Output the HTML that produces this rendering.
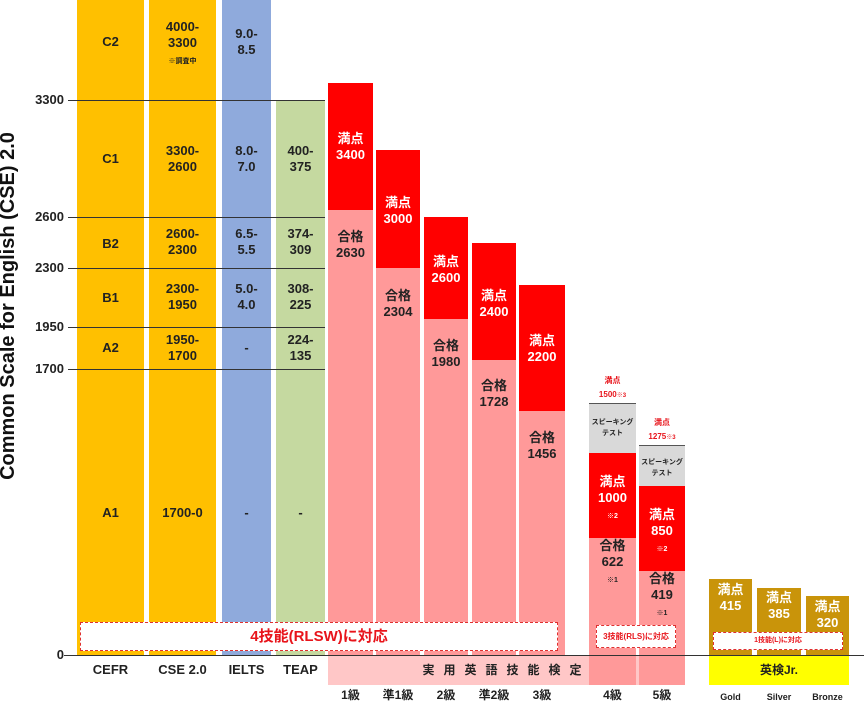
<!DOCTYPE html>
<html><head><meta charset="utf-8"><style>
body{margin:0;width:864px;height:695px;overflow:hidden;background:#fff;position:relative;font-family:"Liberation Sans","Noto Sans CJK JP",sans-serif;font-weight:bold}
div{position:absolute;box-sizing:border-box}
.c{text-align:center;color:#222;font-size:13px;line-height:16px}
.w{color:#fff;text-align:center;font-size:13px;line-height:16px}
.hl{height:1px;background:#333}
.yl{font-size:13px;color:#222;left:6px;width:58px;text-align:right}
.box{background:#fff;border:1px dashed #e03030;color:#e8141b;text-align:center}
.s{font-size:7px}
</style></head><body>
<div style="left:-192px;top:294px;width:400px;transform:rotate(-90deg);font-size:20px;color:#111;text-align:center;line-height:24px">Common Scale for English (CSE) 2.0</div>
<div style="left:77px;top:0;width:67px;height:655px;background:#ffc000"></div>
<div style="left:149px;top:0;width:67px;height:655px;background:#ffc000"></div>
<div style="left:222px;top:0;width:49px;height:655px;background:#8faadc"></div>
<div style="left:276px;top:100px;width:49px;height:555px;background:#c5d9a0"></div>
<div style="left:328px;top:83px;width:45px;height:127px;background:#ff0000"></div>
<div style="left:328px;top:210px;width:45px;height:475px;background:#ff9999"></div>
<div style="left:376px;top:150px;width:44px;height:118px;background:#ff0000"></div>
<div style="left:376px;top:268px;width:44px;height:417px;background:#ff9999"></div>
<div style="left:424px;top:217px;width:44px;height:102px;background:#ff0000"></div>
<div style="left:424px;top:319px;width:44px;height:366px;background:#ff9999"></div>
<div style="left:472px;top:243px;width:44px;height:117px;background:#ff0000"></div>
<div style="left:472px;top:360px;width:44px;height:325px;background:#ff9999"></div>
<div style="left:519px;top:285px;width:46px;height:126px;background:#ff0000"></div>
<div style="left:519px;top:411px;width:46px;height:274px;background:#ff9999"></div>
<div style="left:328px;top:655px;width:357px;height:30px;background:#ffc7c7"></div>
<div style="left:589px;top:403px;width:47px;height:50px;background:#d9d9d9;border-top:1px solid #555"></div>
<div style="left:589px;top:453px;width:47px;height:85px;background:#ff0000"></div>
<div style="left:589px;top:538px;width:47px;height:147px;background:#ff9999"></div>
<div style="left:639px;top:445px;width:46px;height:41px;background:#d9d9d9;border-top:1px solid #555"></div>
<div style="left:639px;top:486px;width:46px;height:85px;background:#ff0000"></div>
<div style="left:639px;top:571px;width:46px;height:114px;background:#ff9999"></div>
<div style="left:709px;top:579px;width:43px;height:76px;background:#c9940a"></div>
<div style="left:757px;top:588px;width:44px;height:67px;background:#c9940a"></div>
<div style="left:806px;top:596px;width:43px;height:59px;background:#c9940a"></div>
<div style="left:709px;top:655px;width:140px;height:30px;background:#ffff00"></div>
<div class="hl" style="left:68px;top:100px;width:257px"></div>
<div class="hl" style="left:68px;top:217px;width:257px"></div>
<div class="hl" style="left:68px;top:268px;width:257px"></div>
<div class="hl" style="left:68px;top:327px;width:257px"></div>
<div class="hl" style="left:68px;top:369px;width:257px"></div>
<div class="hl" style="left:64px;top:655px;width:800px"></div>
<div class="yl" style="top:92px">3300</div>
<div class="yl" style="top:209px">2600</div>
<div class="yl" style="top:260px">2300</div>
<div class="yl" style="top:319px">1950</div>
<div class="yl" style="top:361px">1700</div>
<div class="yl" style="top:647px">0</div>
<div class="c" style="left:77px;width:67px;top:34px">C2</div>
<div class="c" style="left:77px;width:67px;top:151px">C1</div>
<div class="c" style="left:77px;width:67px;top:236px">B2</div>
<div class="c" style="left:77px;width:67px;top:290px">B1</div>
<div class="c" style="left:77px;width:67px;top:340px">A2</div>
<div class="c" style="left:77px;width:67px;top:505px">A1</div>
<div class="c" style="left:149px;width:67px;top:19px">4000-<br>3300<br><span class="s">※調査中</span></div>
<div class="c" style="left:149px;width:67px;top:143px">3300-<br>2600</div>
<div class="c" style="left:149px;width:67px;top:226px">2600-<br>2300</div>
<div class="c" style="left:149px;width:67px;top:281px">2300-<br>1950</div>
<div class="c" style="left:149px;width:67px;top:332px">1950-<br>1700</div>
<div class="c" style="left:149px;width:67px;top:505px">1700-0</div>
<div class="c" style="left:222px;width:49px;top:26px">9.0-<br>8.5</div>
<div class="c" style="left:222px;width:49px;top:143px">8.0-<br>7.0</div>
<div class="c" style="left:222px;width:49px;top:226px">6.5-<br>5.5</div>
<div class="c" style="left:222px;width:49px;top:281px">5.0-<br>4.0</div>
<div class="c" style="left:222px;width:49px;top:340px">-</div>
<div class="c" style="left:222px;width:49px;top:505px">-</div>
<div class="c" style="left:276px;width:49px;top:143px">400-<br>375</div>
<div class="c" style="left:276px;width:49px;top:226px">374-<br>309</div>
<div class="c" style="left:276px;width:49px;top:281px">308-<br>225</div>
<div class="c" style="left:276px;width:49px;top:332px">224-<br>135</div>
<div class="c" style="left:276px;width:49px;top:505px">-</div>
<div class="w" style="left:328px;width:45px;top:131px">満点<br>3400</div>
<div class="c" style="left:328px;width:45px;top:229px">合格<br>2630</div>
<div class="w" style="left:376px;width:44px;top:195px">満点<br>3000</div>
<div class="c" style="left:376px;width:44px;top:288px">合格<br>2304</div>
<div class="w" style="left:424px;width:44px;top:254px">満点<br>2600</div>
<div class="c" style="left:424px;width:44px;top:338px">合格<br>1980</div>
<div class="w" style="left:472px;width:44px;top:288px">満点<br>2400</div>
<div class="c" style="left:472px;width:44px;top:378px">合格<br>1728</div>
<div class="w" style="left:519px;width:46px;top:333px">満点<br>2200</div>
<div class="c" style="left:519px;width:46px;top:430px">合格<br>1456</div>
<div style="left:589px;width:47px;top:374px;text-align:center;color:#e8141b;font-size:8px;line-height:14px">満点<br>1500<span style="font-size:6px">※3</span></div>
<div style="left:589px;width:47px;top:417px;text-align:center;color:#222;font-size:7px;line-height:11px">スピーキング<br>テスト</div>
<div class="w" style="left:589px;width:47px;top:474px">満点<br>1000<br><span class="s">※2</span></div>
<div class="c" style="left:589px;width:47px;top:538px">合格<br>622<br><span class="s">※1</span></div>
<div style="left:639px;width:46px;top:416px;text-align:center;color:#e8141b;font-size:8px;line-height:14px">満点<br>1275<span style="font-size:6px">※3</span></div>
<div style="left:639px;width:46px;top:457px;text-align:center;color:#222;font-size:7px;line-height:11px">スピーキング<br>テスト</div>
<div class="w" style="left:639px;width:46px;top:507px">満点<br>850<br><span class="s">※2</span></div>
<div class="c" style="left:639px;width:46px;top:571px">合格<br>419<br><span class="s">※1</span></div>
<div class="w" style="left:709px;width:43px;top:582px">満点<br>415</div>
<div class="w" style="left:757px;width:44px;top:590px">満点<br>385</div>
<div class="w" style="left:806px;width:43px;top:599px">満点<br>320</div>
<div class="box" style="left:80px;top:622px;width:478px;height:29px;font-size:15px;line-height:27px">4技能(RLSW)に対応</div>
<div class="box" style="left:596px;top:625px;width:80px;height:23px;font-size:8px;line-height:21px">3技能(RLS)に対応</div>
<div class="box" style="left:713px;top:632px;width:130px;height:18px;font-size:7px;line-height:16px">1技能(L)に対応</div>
<div class="c" style="left:77px;width:67px;top:662px">CEFR</div>
<div class="c" style="left:149px;width:67px;top:662px">CSE 2.0</div>
<div class="c" style="left:222px;width:49px;top:662px">IELTS</div>
<div class="c" style="left:276px;width:49px;top:662px">TEAP</div>
<div class="c" style="left:328px;width:357px;top:662px;letter-spacing:9px;font-size:12px">実用英語技能検定</div>
<div class="c" style="left:709px;width:140px;top:662px;font-size:12px">英検Jr.</div>
<div class="c" style="left:328px;width:45px;top:687px;font-size:12px">1級</div>
<div class="c" style="left:376px;width:44px;top:687px;font-size:12px">準1級</div>
<div class="c" style="left:424px;width:44px;top:687px;font-size:12px">2級</div>
<div class="c" style="left:472px;width:44px;top:687px;font-size:12px">準2級</div>
<div class="c" style="left:519px;width:46px;top:687px;font-size:12px">3級</div>
<div class="c" style="left:589px;width:47px;top:687px;font-size:12px">4級</div>
<div class="c" style="left:639px;width:46px;top:687px;font-size:12px">5級</div>
<div class="c" style="left:709px;width:43px;top:689px;font-size:9px">Gold</div>
<div class="c" style="left:757px;width:44px;top:689px;font-size:9px">Silver</div>
<div class="c" style="left:806px;width:43px;top:689px;font-size:9px">Bronze</div>
</body></html>
